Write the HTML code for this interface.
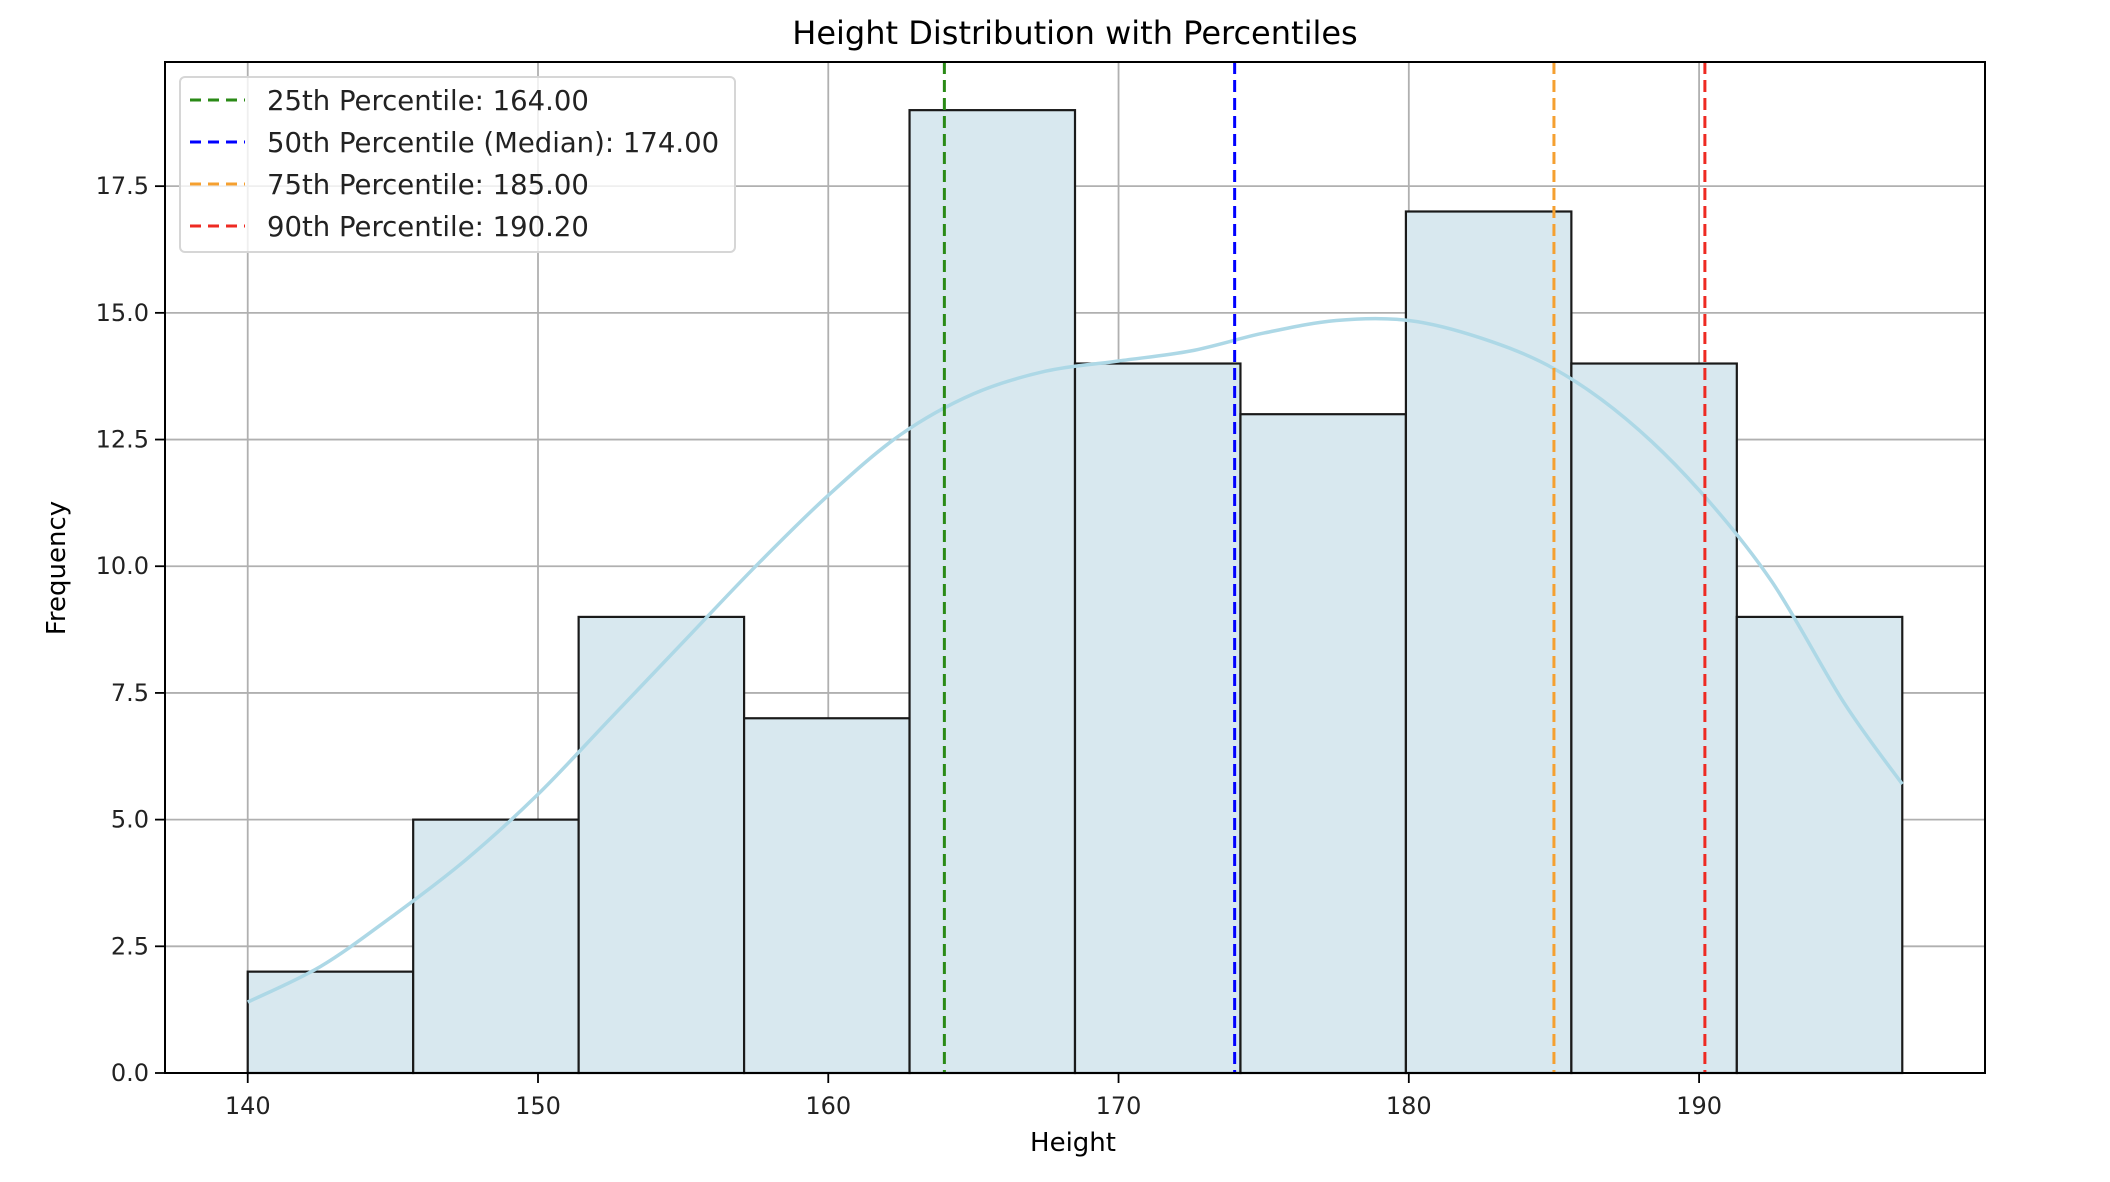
<!DOCTYPE html>
<html><head><meta charset="utf-8"><style>
html,body{margin:0;padding:0;background:#fff;}
svg{display:block;font-family:"DejaVu Sans","Liberation Sans",sans-serif;}
</style></head><body>
<svg id="chart" width="2110" height="1182" viewBox="0 0 2110 1182">
<text x="1075" y="44" text-anchor="middle" font-size="32" fill="#000">Height Distribution with Percentiles</text>
<g id="grid"></g>
<g id="bars"></g>
<g id="kde"></g>
<g id="plines"></g>
<rect x="165" y="62" width="1820" height="1011" fill="none" stroke="#000" stroke-width="2"/>
<g id="xaxis"></g>
<g id="yaxis"></g>
<text x="1073" y="1151" text-anchor="middle" font-size="26" fill="#000">Height</text>
<text transform="translate(65,568) rotate(-90)" text-anchor="middle" font-size="26" fill="#000">Frequency</text>
<g id="legend"></g>
</svg>
<script>
const binEdges = [140, 145.7, 151.4, 157.1, 162.8, 168.5, 174.2, 179.9, 185.6, 191.3, 197];
const counts = [2, 5, 9, 7, 19, 14, 13, 17, 14, 9];
const kdeX = [140, 142.5, 145, 147.5, 150, 152.5, 155, 157.5, 160, 162.5, 165, 167.5, 170, 172.5, 175, 177.5, 180, 182.5, 185, 187.5, 190, 192.5, 195, 197];
const kdeY = [1.4, 2.1, 3.1, 4.2, 5.5, 7.0, 8.5, 10.0, 11.4, 12.6, 13.4, 13.85, 14.05, 14.25, 14.6, 14.85, 14.85, 14.5, 13.9, 12.9, 11.5, 9.7, 7.3, 5.7];
const pctValues = [164.0, 174.0, 185.0, 190.2];
const pctLabels = ["25th Percentile: 164.00", "50th Percentile (Median): 174.00", "75th Percentile: 185.00", "90th Percentile: 190.20"];
const pctColors = ["#2a8a16", "#0000ff", "#f5a030", "#ee2a22"];
const xTicks = [140, 150, 160, 170, 180, 190];
const yTicks = [0, 2.5, 5.0, 7.5, 10.0, 12.5, 15.0, 17.5];
const yTickLabels = ["0.0", "2.5", "5.0", "7.5", "10.0", "12.5", "15.0", "17.5"];

const NS = "http://www.w3.org/2000/svg";
const L = 165, R = 1985, T = 62, B = 1073;
const xMin = 137.15, xMax = 199.85, yMin = 0, yMax = 19.95;
function xs(v){ return L + (v - xMin) / (xMax - xMin) * (R - L); }
function ys(v){ return B - (v - yMin) / (yMax - yMin) * (B - T); }
function mk(tag, attrs, parent){ const e = document.createElementNS(NS, tag); for (const k in attrs) e.setAttribute(k, attrs[k]); parent.appendChild(e); return e; }

const grid = document.getElementById('grid');
const xaxis = document.getElementById('xaxis');
const yaxis = document.getElementById('yaxis');
xTicks.forEach(t => {
  const g = mk('line', {x1: xs(t), x2: xs(t), y1: T, y2: B, stroke: '#b0b0b0', 'stroke-width': 1.8}, grid);
  
  
  const tk = mk('line', {x1: xs(t), x2: xs(t), y1: B, y2: B + 10, stroke: '#000', 'stroke-width': 1.8}, xaxis);
  
  
  const tx = mk('text', {x: xs(t), y: B + 41, 'text-anchor': 'middle', 'font-size': 24, fill: '#222'}, xaxis);
  tx.textContent = t;
  
  
});
yTicks.forEach((t, i) => {
  const g = mk('line', {x1: L, x2: R, y1: ys(t), y2: ys(t), stroke: '#b0b0b0', 'stroke-width': 1.8}, grid);
  
  
  const tk = mk('line', {x1: L - 10, x2: L, y1: ys(t), y2: ys(t), stroke: '#000', 'stroke-width': 1.8}, yaxis);
  
  
  const tx = mk('text', {x: L - 16, y: ys(t) + 8, 'text-anchor': 'end', 'font-size': 24, fill: '#222'}, yaxis);
  tx.textContent = yTickLabels[i];
  
  
});

const bars = document.getElementById('bars');
counts.forEach((c, i) => {
  const x0 = xs(binEdges[i]), x1 = xs(binEdges[i + 1]);
  const r = mk('rect', {x: x0, y: ys(c), width: x1 - x0, height: ys(0) - ys(c), fill: '#d8e8ef', stroke: '#1a1a1a', 'stroke-width': 2.2}, bars);
  
  
});

const kde = document.getElementById('kde');
const pts = kdeX.map((x, i) => [xs(x), ys(kdeY[i])]);
let d = 'M' + pts[0][0].toFixed(1) + ' ' + pts[0][1].toFixed(1);
for (let i = 0; i < pts.length - 1; i++) {
  const p0 = pts[Math.max(0, i - 1)], p1 = pts[i], p2 = pts[i + 1], p3 = pts[Math.min(pts.length - 1, i + 2)];
  const c1x = p1[0] + (p2[0] - p0[0]) / 6, c1y = p1[1] + (p2[1] - p0[1]) / 6;
  const c2x = p2[0] - (p3[0] - p1[0]) / 6, c2y = p2[1] - (p3[1] - p1[1]) / 6;
  d += ' C' + c1x.toFixed(1) + ' ' + c1y.toFixed(1) + ' ' + c2x.toFixed(1) + ' ' + c2y.toFixed(1) + ' ' + p2[0].toFixed(1) + ' ' + p2[1].toFixed(1);
}
const kp = mk('path', {d: d, fill: 'none', stroke: '#add8e6', 'stroke-width': 3.5, 'stroke-linejoin': 'round'}, kde);



const pl = document.getElementById('plines');
pctValues.forEach((v, i) => {
  const ln = mk('line', {x1: xs(v), x2: xs(v), y1: T, y2: B, stroke: pctColors[i], 'stroke-width': 3, 'stroke-dasharray': '12 6'}, pl);
  
  
});

const lg = document.getElementById('legend');
const box = mk('rect', {x: 180, y: 77, width: 555, height: 175, rx: 5, fill: 'rgba(255,255,255,0.8)', stroke: '#d6d6d6', 'stroke-width': 2}, lg);


pctLabels.forEach((lab, i) => {
  const y = 100 + i * 42;
  const ln = mk('line', {x1: 190, x2: 245, y1: y, y2: y, stroke: pctColors[i], 'stroke-width': 3, 'stroke-dasharray': '11 7'}, lg);
  
  
  const tx = mk('text', {x: 267, y: y + 10, 'font-size': 27.5, fill: '#222'}, lg);
  tx.textContent = lab;
  
  
});
</script>
</body></html>
